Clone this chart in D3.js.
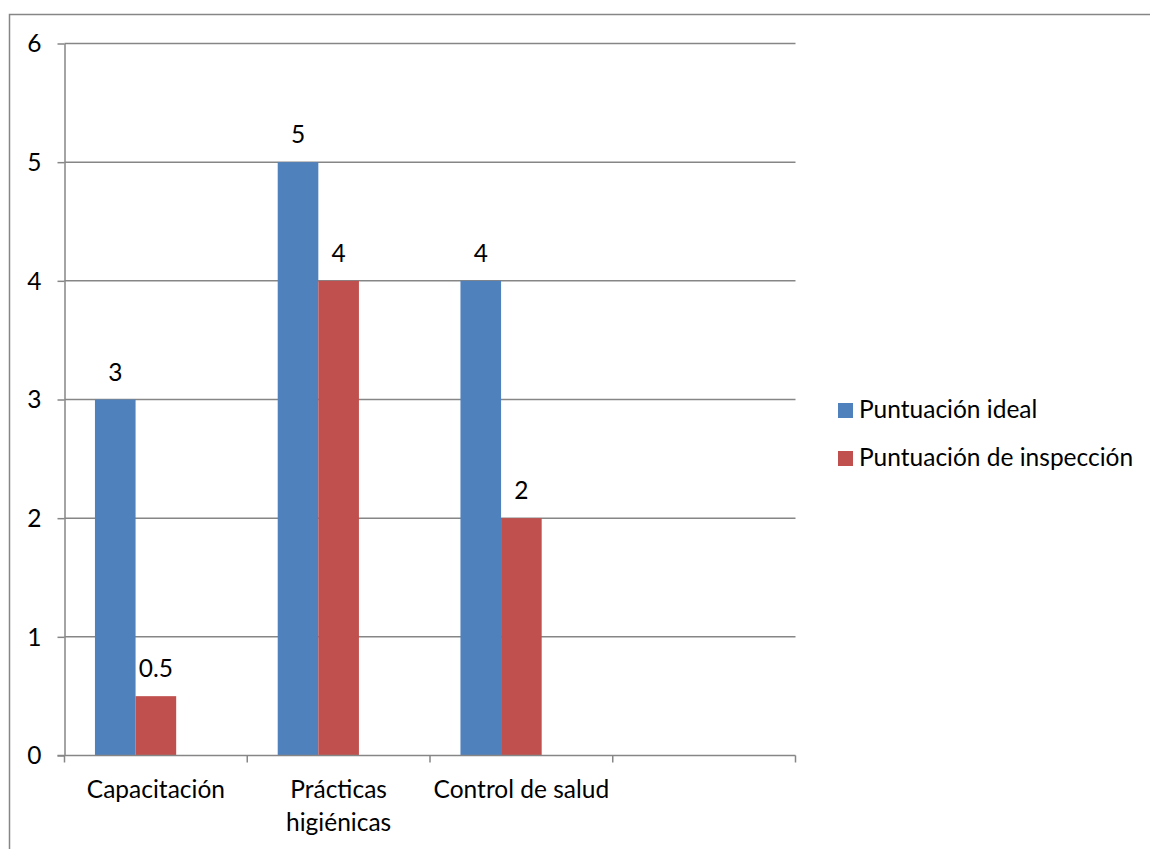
<!DOCTYPE html>
<html>
<head>
<meta charset="utf-8">
<script src="https://cdn.jsdelivr.net/npm/d3@7"></script>
<style>
  html, body { margin: 0; padding: 0; background: #fff; }
  svg { display: block; font-family: Lato, "Open Sans", sans-serif; }
</style>
</head>
<body>
<svg id="chart" width="1150" height="849"></svg>
<script>
// Categories (the fourth slot is an empty category)
const categories = ["Capacitación", "Prácticas higiénicas", "Control de salud", ""];
// Series values per category
const seriesNames = ["Puntuación ideal", "Puntuación de inspección"];
const puntuacionIdeal = [3, 5, 4, null];
const puntuacionInspeccion = [0.5, 4, 2, null];
const seriesColors = ["#4F81BD", "#C0504D"];
// Value axis ticks
const yTicks = [0, 1, 2, 3, 4, 5, 6];

const svg = d3.select("#chart");
const plot = { left: 64.5, right: 795.5, top: 43.5, bottom: 755.5 };
const axisColor = "#868686";
const fontSize = 24.5;

// Outer chart border (runs off the right and bottom edges)
svg.append("rect")
  .attr("x", 9.5).attr("y", 14.5)
  .attr("width", 1200).attr("height", 900)
  .attr("fill", "none").attr("stroke", axisColor).attr("stroke-width", 1.5);

const x0 = d3.scaleBand().domain(categories).range([plot.left, plot.right]).padding(0);
// Three bar slots per category (third slot is empty), 150% gap width
const x1 = d3.scaleBand().domain(d3.range(3)).range([0, x0.bandwidth()])
  .paddingInner(0).paddingOuter(0.75);
const y = d3.scaleLinear().domain([0, 6]).range([plot.bottom, plot.top]);

// Value axis with left tick marks
const yAxis = svg.append("g").attr("transform", `translate(${plot.left},0)`)
  .call(d3.axisLeft(y).tickValues(yTicks).tickSize(7).tickSizeOuter(0).tickFormat(d3.format("d")));
yAxis.select(".domain").attr("stroke", axisColor).attr("stroke-width", 1.5);
yAxis.selectAll(".tick line").attr("stroke", axisColor).attr("stroke-width", 1.5);
yAxis.selectAll(".tick text")
  .attr("x", -23).attr("dy", "0.34em")
  .attr("font-size", fontSize).attr("fill", "#000")
  .attr("font-family", "Lato, sans-serif");

// Horizontal gridlines
svg.append("g").selectAll("line.grid")
  .data(yTicks.filter(v => v > 0))
  .join("line")
  .attr("x1", plot.left).attr("x2", plot.right)
  .attr("y1", d => y(d)).attr("y2", d => y(d))
  .attr("stroke", axisColor).attr("stroke-width", 1.5);

// Bars
const seriesData = [puntuacionIdeal, puntuacionInspeccion];
const barG = svg.append("g");
seriesData.forEach((vals, si) => {
  const pts = categories.map((c, i) => ({ c, v: vals[i] })).filter(d => d.v != null);
  barG.selectAll(null).data(pts).join("rect")
    .attr("x", d => x0(d.c) + x1(si))
    .attr("width", x1.bandwidth())
    .attr("y", d => y(d.v))
    .attr("height", d => y(0) - y(d.v))
    .attr("fill", seriesColors[si]);
  // Value labels above each bar
  barG.selectAll(null).data(pts).join("text")
    .attr("x", d => x0(d.c) + x1(si) + x1.bandwidth() / 2)
    .attr("y", d => y(d.v) - 19)
    .attr("text-anchor", "middle")
    .attr("font-size", fontSize).attr("fill", "#000")
    .text(d => d.v);
});

// Category axis
const xAxis = svg.append("g").attr("transform", `translate(0,${plot.bottom})`);
xAxis.append("line")
  .attr("x1", plot.left - 7).attr("x2", plot.right)
  .attr("stroke", axisColor).attr("stroke-width", 1.5);
const boundaries = categories.map(c => x0(c)).concat([plot.right]);
xAxis.selectAll("line.tick").data(boundaries).join("line")
  .attr("x1", d => d).attr("x2", d => d)
  .attr("y1", 0).attr("y2", 7)
  .attr("stroke", axisColor).attr("stroke-width", 1.5);

// Category labels, wrapped to the band width
const labels = xAxis.selectAll("text.cat").data(categories).join("text")
  .attr("text-anchor", "middle")
  .attr("font-size", fontSize).attr("fill", "#000")
  .attr("transform", d => `translate(${x0(d) + x0.bandwidth() / 2},42)`);
labels.each(function(d) {
  const t = d3.select(this);
  const words = d.split(" ");
  let line = [];
  let tspan = t.append("tspan").attr("x", 0).attr("dy", 0);
  words.forEach(w => {
    line.push(w);
    tspan.text(line.join(" "));
    if (tspan.node().getComputedTextLength() > x0.bandwidth() - 2 && line.length > 1) {
      line.pop();
      tspan.text(line.join(" "));
      line = [w];
      tspan = t.append("tspan").attr("x", 0).attr("dy", 33).text(w);
    }
  });
});

// Legend
const legend = svg.append("g").attr("transform", "translate(838,403)");
seriesNames.forEach((name, i) => {
  const g = legend.append("g").attr("transform", `translate(0,${i * 48})`);
  g.append("rect").attr("width", 15).attr("height", 15).attr("fill", seriesColors[i]);
  g.append("text").attr("x", 21).attr("y", 15)
    .attr("font-size", fontSize).attr("fill", "#000").text(name);
});
</script>
</body>
</html>
